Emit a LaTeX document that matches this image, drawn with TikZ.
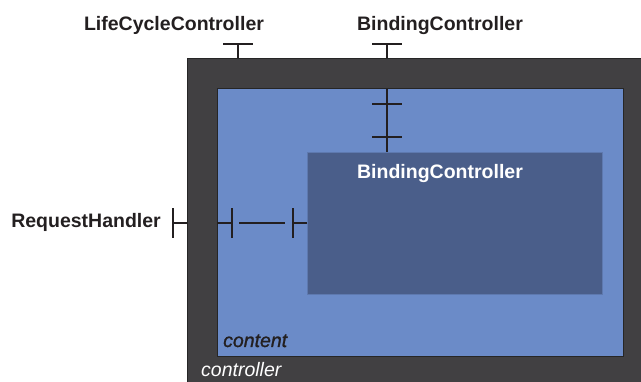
\documentclass[tikz,border=0pt]{standalone}
\usepackage{fontspec}
\setmainfont{Liberation Sans}
\newfontfamily\contentfont[ItalicFeatures={FakeBold=1.2}]{Liberation Sans}
\definecolor{ctrlgray}{HTML}{414042}
\definecolor{contentblue}{HTML}{6B8BC8}
\definecolor{bcblue}{HTML}{4A5E8A}
\definecolor{inkcol}{HTML}{231F20}
\begin{document}
\begin{tikzpicture}[x=1pt,y=-1pt,
  lbl/.style={font=\fontsize{19.5}{22}\selectfont\bfseries, text=inkcol, inner sep=0pt},
  boxstyle/.style={anchor=north west, inner sep=0pt, outer sep=0pt},
  itf/.style={line width=2.4pt, draw=inkcol}]
\useasboundingbox (0,0) rectangle (641,382);
% boxes
\node[boxstyle, fill=ctrlgray, draw=black!85, line width=0.6pt, minimum width=460pt, minimum height=330pt] (ctrl) at (187,58) {};
\node[boxstyle, fill=contentblue, draw=black!85, line width=1pt, minimum width=406pt, minimum height=268pt] (cont) at (217,89) {};
\node[boxstyle, fill=bcblue, draw=contentblue!60!bcblue, line width=0.8pt, minimum width=295pt, minimum height=142pt] (bc) at (307,152) {};
% labels
\node[lbl, anchor=base] (lcc) at (174,31) {LifeCycleController};
\node[lbl, anchor=base] (bct) at (440,31) {BindingController};
\node[lbl, anchor=base east] (rh) at (161,228) {RequestHandler};
\node[lbl, anchor=base, text=white] (bcl) at (440,179) {BindingController};
\node[anchor=base west, inner sep=0pt, font=\fontsize{19.5}{22}\selectfont\contentfont\itshape, text=inkcol] (contl) at (223,347) {content};
\node[anchor=base west, inner sep=0pt, font=\fontsize{19.5}{22}\selectfont\itshape, text=white] (ctrll) at (201,377) {controller};
% interface coordinates
\coordinate (lccs) at (238,58);
\coordinate (lccb) at (238,44);
\coordinate (bcs) at (387,58);
\coordinate (bcb) at (387,44);
\coordinate (rhs) at (187,223);
\coordinate (rhb) at (173,223);
\coordinate (c1s) at (387,89);
\coordinate (c1b) at (387,104);
\coordinate (c2s) at (387,152);
\coordinate (c2b) at (387,137);
\coordinate (c3s) at (217,223);
\coordinate (c3b) at (232,223);
\coordinate (c4s) at (307,223);
\coordinate (c4b) at (293,223);
% external interfaces
\draw[itf] (lccs) -- (lccb);
\draw[itf] ([xshift=-15pt]lccb) -- ([xshift=15pt]lccb);
\draw[itf] (bcs) -- (bcb);
\draw[itf] ([xshift=-15pt]bcb) -- ([xshift=15pt]bcb);
\draw[itf] (rhs) -- (rhb);
\draw[itf] ([yshift=-15pt]rhb) -- ([yshift=15pt]rhb);
% internal vertical binding
\draw[itf] (c1s) -- (c1b);
\draw[itf] ([xshift=-15pt]c1b) -- ([xshift=15pt]c1b);
\draw[itf] (c2s) -- (c2b);
\draw[itf] ([xshift=-15pt]c2b) -- ([xshift=15pt]c2b);
\draw[itf] ([yshift=5pt]c1b) -- ([yshift=-5pt]c2b);
% internal horizontal binding
\draw[itf] (c3s) -- (c3b);
\draw[itf] ([yshift=-15pt]c3b) -- ([yshift=15pt]c3b);
\draw[itf] (c4s) -- (c4b);
\draw[itf] ([yshift=-15pt]c4b) -- ([yshift=15pt]c4b);
\draw[itf] ([xshift=7pt]c3b) -- ([xshift=-8pt]c4b);
\end{tikzpicture}
\end{document}
